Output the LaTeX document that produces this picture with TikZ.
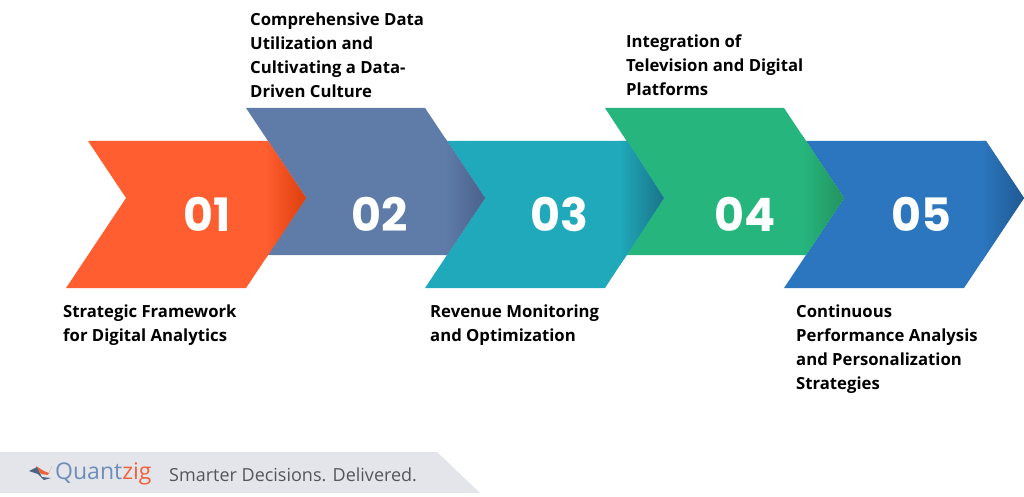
\documentclass[tikz,border=0pt]{standalone}
\usepackage{fontspec}
\setmainfont{Open Sans}
\newfontfamily\numfont{Poppins}
\definecolor{cOne}{HTML}{FF5E30}\definecolor{dOne}{HTML}{DD3F0C}
\definecolor{cTwo}{HTML}{5F7CA9}\definecolor{dTwo}{HTML}{4A618C}
\definecolor{cThree}{HTML}{1FA9BA}\definecolor{dThree}{HTML}{1B7389}
\definecolor{cFour}{HTML}{26B67D}\definecolor{dFour}{HTML}{24935F}
\definecolor{cFive}{HTML}{2B76BE}\definecolor{dFive}{HTML}{205A92}
\definecolor{foot}{HTML}{E3E5EA}
\definecolor{logoblue}{HTML}{6F8DB8}
\definecolor{logored}{HTML}{F0623A}
\definecolor{tagcol}{HTML}{54565C}
\newcommand{\chev}[8]{% name, base, dark, ptsA..., tip
  \fill[#2] #4;
  \begin{scope}
    \clip #4;
    \shade[left color=#2,right color=#3,shading=axis] (#5,#6) rectangle (#7,#8);
  \end{scope}}
\tikzset{
  numlabel/.style={text=white,font=\numfont\bfseries\fontsize{46}{46}\selectfont,inner sep=0pt,anchor=center},
  caption/.style={text=black,font=\bfseries\fontsize{16.7}{24}\selectfont,align=left,anchor=north west,inner sep=0pt},
}
\begin{document}
\begin{tikzpicture}[x=1pt,y=-1pt]
\useasboundingbox (0,0) rectangle (1024,497);
\chev{e}{cFive}{dFive}{(806,141)--(986,141)--(1024,198)--(964,288)--(784,288)--(844,198)--cycle}{982}{100}{1024}{300}
\chev{d}{cFour}{dFour}{(605,108)--(784,108)--(844,198)--(806,255)--(626,255)--(664,198)--cycle}{802}{100}{844}{300}
\chev{c}{cThree}{dThree}{(447,141)--(627,141)--(664,198)--(605,288)--(425,288)--(485,198)--cycle}{620}{100}{664}{300}
\chev{b}{cTwo}{dTwo}{(246,108)--(425,108)--(485,198)--(447,255)--(267,255)--(306,198)--cycle}{445}{100}{485}{300}
\chev{a}{cOne}{dOne}{(88,141)--(268,141)--(306,198)--(246,288)--(66,288)--(126,198)--cycle}{266}{100}{306}{300}
\node[numlabel] (n1) at (207,214.5) {01};
\node[numlabel] (n2) at (380,214.5) {02};
\node[numlabel] (n3) at (559,214.5) {03};
\node[numlabel] (n4) at (745,214.5) {04};
\node[numlabel] (n5) at (921,214.5) {05};
\node[caption] (t1) at (63,304.5) {Strategic Framework\\for Digital Analytics};
\node[caption] (t2) at (250,12.5) {Comprehensive Data\\Utilization and\\Cultivating a Data-\\Driven Culture};
\node[caption] (t3) at (430,304.5) {Revenue Monitoring\\and Optimization};
\node[caption] (t4) at (626,34.5) {Integration of\\Television and Digital\\Platforms};
\node[caption] (t5) at (796,304.5) {Continuous\\Performance Analysis\\and Personalization\\Strategies};
\fill[foot] (0,452)--(437,452)--(480,493)--(0,493)--cycle;
\fill[logored] (36,466)--(41,474)--(48,475)--(52,466)--(49,473)--(44,471)--cycle;
\fill[logoblue!70!black] (29,471)--(37,467)--(42,477)--(51,478)--(44,480)--(38,474)--cycle;
\node[inner sep=0pt,anchor=west,font=\fontsize{23}{23}\selectfont,text=logoblue] (logo) at (55,473.5) {Quant\textcolor{logored}{zig}};
\node[inner sep=0pt,anchor=west,font=\fontsize{18}{20}\selectfont,text=tagcol] (tag) at (169,474.5) {Smarter Decisions. Delivered.};
\end{tikzpicture}
\end{document}
